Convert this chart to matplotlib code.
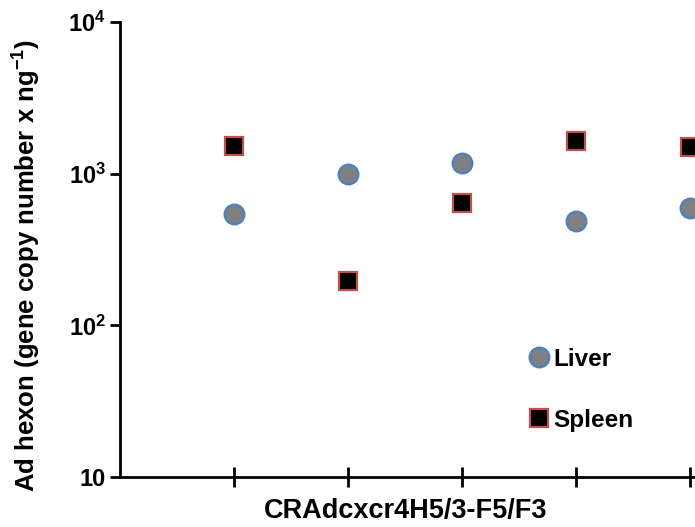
import numpy as np
import matplotlib
matplotlib.use("Agg")
import matplotlib.pyplot as plt

plt.rcParams['font.family'] = ['Liberation Sans', 'DejaVu Sans']
plt.rcParams['font.weight'] = 'bold'
plt.rcParams['mathtext.fontset'] = 'custom'
plt.rcParams['mathtext.rm'] = 'Liberation Sans:bold'
plt.rcParams['mathtext.bf'] = 'Liberation Sans:bold'
plt.rcParams['mathtext.default'] = 'bf'

# data
samples = [1, 2, 3, 4, 5]
liver = [540, 990, 1180, 490, 590]
spleen = [1530, 195, 645, 1630, 1490]
ytick_vals = [10, 100, 1000, 10000]
ytick_labels = ["10", "$10^{2}$", "$10^{3}$", "$10^{4}$"]
xlabel = "CRAdcxcr4H5/3-F5/F3"
ylabel = "Ad hexon (gene copy number x ng$^{-1}$)"

fig = plt.figure(figsize=(6.95, 5.27), dpi=100)
ax = fig.add_axes([120/695, 50/527, 684/695, 455/527])

ax.plot(samples, liver, 'o', ms=14, mfc='#808080', mec='#4F81BD', mew=1.8,
        label='Liver', clip_on=False)
ax.plot(samples, spleen, 's', ms=13, mfc='black', mec='#C0504D', mew=1.6,
        label='Spleen', clip_on=False)

ax.set_yscale('log')
ax.set_ylim(10, 10000)
ax.set_xlim(0, 6)
ax.set_yticks(ytick_vals)
ax.set_yticklabels(ytick_labels)
ax.yaxis.set_minor_locator(matplotlib.ticker.NullLocator())
ax.set_xticks(samples)
ax.set_xticklabels([])

for s in ['top', 'right']:
    ax.spines[s].set_visible(False)
for s in ['left', 'bottom']:
    ax.spines[s].set_linewidth(2)

ax.tick_params(axis='y', direction='out', length=7, width=2, labelsize=17, pad=3)
ax.tick_params(axis='x', direction='inout', length=14, width=2)

ax.set_ylabel(ylabel, fontsize=18.5, fontweight='bold')
ax.yaxis.set_label_coords(-0.112, 0.465)
ax.set_xlabel(xlabel, fontsize=19.5, fontweight='bold')
ax.xaxis.set_label_coords(0.417, -0.047)

ax.legend(loc='upper left', bbox_to_anchor=(530/695, 1 - 348/527),
          bbox_transform=fig.transFigure, frameon=False, fontsize=17.5,
          handlelength=0.7, handletextpad=0.25, labelspacing=1.56,
          borderpad=0, borderaxespad=0)

fig.savefig("out.png", dpi=100)
